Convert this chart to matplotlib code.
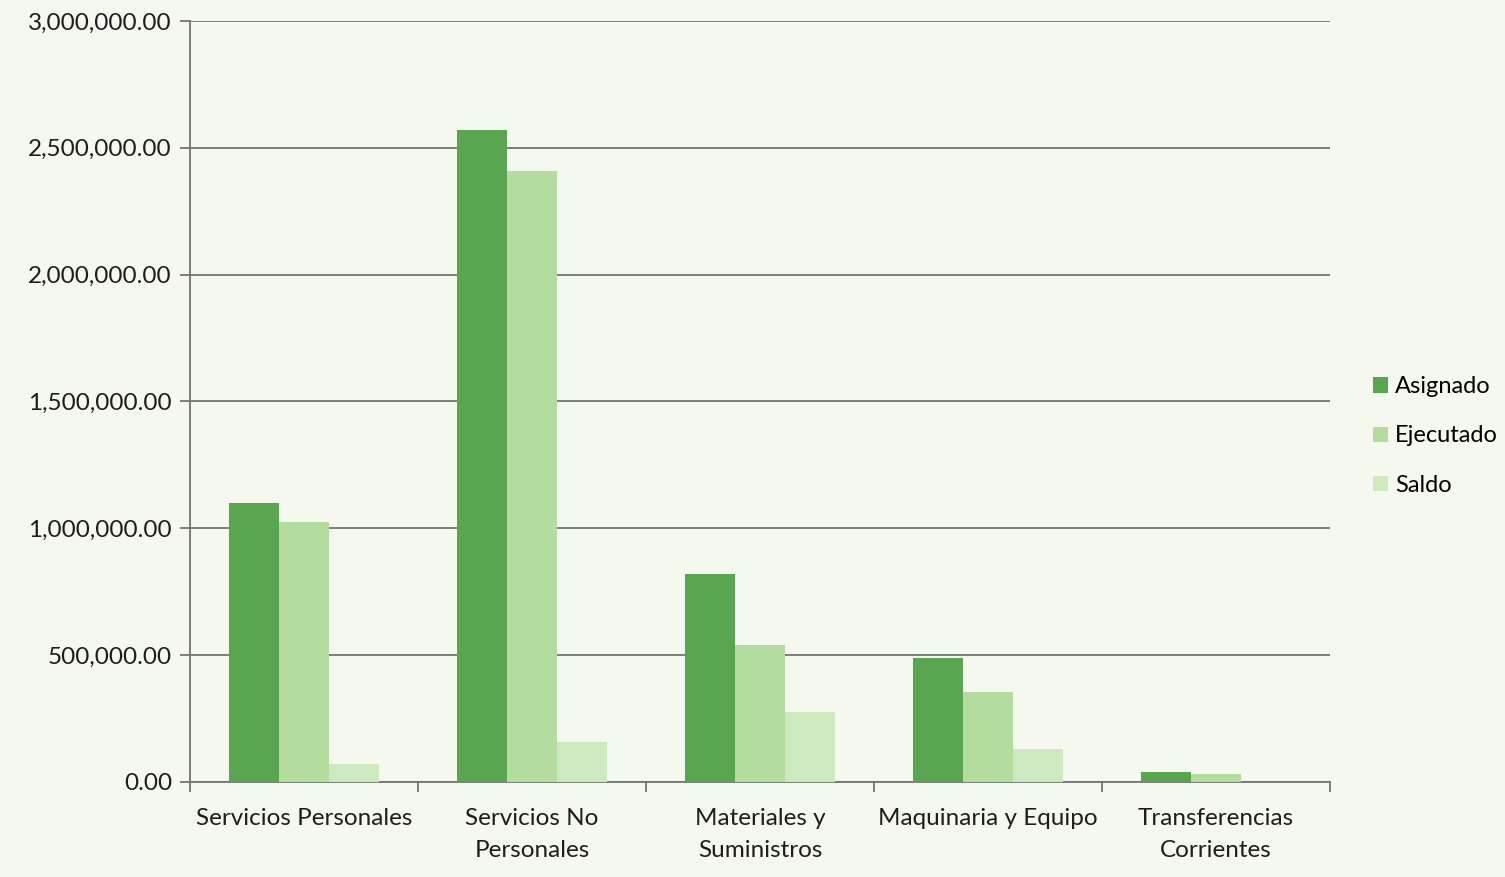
import numpy as np
import matplotlib.pyplot as plt
from matplotlib.ticker import FuncFormatter

categories = ["Servicios Personales", "Servicios No\nPersonales", "Materiales y\nSuministros",
              "Maquinaria y Equipo", "Transferencias\nCorrientes"]
asignado = [1100000, 2570000, 820000, 490000, 40000]
ejecutado = [1025000, 2410000, 540000, 355000, 32000]
saldo = [72000, 158000, 276000, 130000, 0]
series = ["Asignado", "Ejecutado", "Saldo"]
colors = ["#5aa550", "#b3dc9e", "#cde9c0"]

plt.rcParams["font.family"] = ["Lato", "DejaVu Sans"]

fig = plt.figure(figsize=(15.05, 8.77), dpi=100, facecolor="#f4f8ee")
ax = fig.add_axes([190 / 1505, 1 - 782 / 877, 1140 / 1505, 761 / 877])
ax.set_facecolor("none")

x = np.arange(len(categories))
w = 0.22
for i, (vals, name, c) in enumerate(zip([asignado, ejecutado, saldo], series, colors)):
    ax.bar(x + (i - 1) * w, vals, w, color=c, label=name, zorder=3)

ax.set_xlim(-0.5, len(categories) - 0.5)
ax.set_ylim(0, 3000000)
ax.set_yticks(np.arange(0, 3000001, 500000))
ax.yaxis.set_major_formatter(FuncFormatter(lambda v, p: f"{v:,.2f}"))
ax.grid(axis="y", color="#747474", linewidth=1.3, zorder=1)

ax.set_xticks(x)
ax.set_xticklabels(categories, linespacing=1.6)
ax.set_xticks(np.arange(-0.5, len(categories)), minor=True)
ax.tick_params(axis="x", which="major", length=0, pad=19, labelsize=17.5, colors="#1e1e1e")
ax.tick_params(axis="x", which="minor", length=7, color="#747474", width=1.3)
ax.tick_params(axis="y", length=7, color="#747474", width=1.3, labelsize=17.5, colors="#1e1e1e", pad=6)

for s in ["top", "right"]:
    ax.spines[s].set_visible(False)
for s in ["left", "bottom"]:
    ax.spines[s].set_color("#747474")
    ax.spines[s].set_linewidth(1.3)

fig.legend(loc="center left", bbox_to_anchor=(1373 / 1505, 1 - 436 / 877), frameon=False,
           fontsize=17, handlelength=0.62, handleheight=0.62, handletextpad=0.3,
           labelspacing=1.2, borderpad=0, borderaxespad=0)

fig.savefig("out.png", dpi=100, facecolor=fig.get_facecolor())
